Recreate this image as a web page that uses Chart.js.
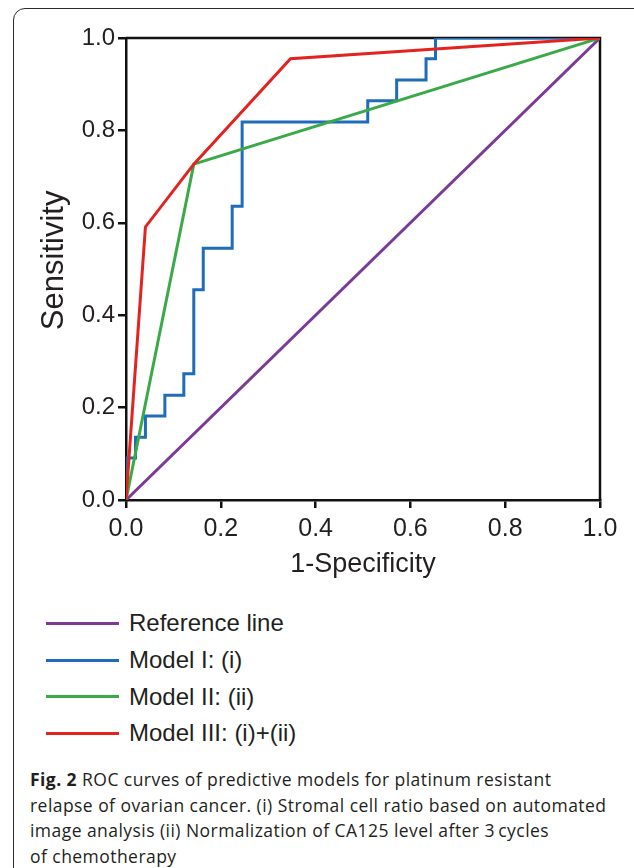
<!DOCTYPE html>
<html>
<head>
<meta charset="utf-8">
<script src="https://cdn.jsdelivr.net/npm/chart.js@4.4.1/dist/chart.umd.min.js"></script>
<style>
  body { margin: 0; background: #fff; width: 634px; height: 868px; overflow: hidden; position: relative; }
  #frame { position: absolute; left: 13px; top: 8px; width: 640px; height: 900px; border: 1.3px solid #2b2b2b; border-radius: 12px; }
  #wrap { position: absolute; left: 0; top: 0; width: 634px; height: 590px; }
  #legend { position: absolute; left: 46px; top: 605px; font-family: "Liberation Sans", Arial, sans-serif; font-size: 24px; color: #231f20; }
  .item { display: flex; align-items: center; height: 36.7px; }
  .swatch { width: 73px; height: 3px; margin-right: 10px; }
  #caption { position: absolute; left: 30px; top: 767px; width: 600px; white-space: nowrap; font-family: "Open Sans", sans-serif; font-size: 17.5px; letter-spacing: 0.45px; line-height: 25.7px; color: #231f20; }
</style>
</head>
<body>
<div id="frame"></div>
<div id="wrap"><canvas id="myChart" width="634" height="590"></canvas></div>
<div id="legend"></div>
<div id="caption"><b>Fig. 2</b> ROC curves of predictive models for platinum resistant<br>relapse of ovarian cancer. (i) Stromal cell ratio based on automated<br>image analysis (ii) Normalization of CA125 level after 3&#8201;cycles<br>of chemotherapy</div>
<script>
// ROC points: 1-Specificity (fpr) and Sensitivity (tpr)
const refFpr = [0, 1]
const refTpr = [0, 1]

const modelIFpr = [0, 0, 0.020, 0.020, 0.041, 0.041, 0.082, 0.082, 0.122, 0.122, 0.143, 0.143, 0.163, 0.163, 0.224, 0.224, 0.245, 0.245, 0.510, 0.510, 0.571, 0.571, 0.633, 0.633, 0.653, 0.653, 1]
const modelITpr = [0, 0.091, 0.091, 0.136, 0.136, 0.182, 0.182, 0.227, 0.227, 0.273, 0.273, 0.455, 0.455, 0.545, 0.545, 0.636, 0.636, 0.818, 0.818, 0.864, 0.864, 0.909, 0.909, 0.955, 0.955, 1, 1]

const modelIIFpr = [0, 0.143, 1]
const modelIITpr = [0, 0.727, 1]

const modelIIIFpr = [0, 0.041, 0.143, 0.347, 1]
const modelIIITpr = [0, 0.591, 0.727, 0.955, 1]

const labels = ["Reference line", "Model I: (i)", "Model II: (ii)", "Model III: (i)+(ii)"]
const colors = ["#7b3a96", "#1f6db8", "#3aaa48", "#e3231f"]
const axisTicks = [0, 0.2, 0.4, 0.6, 0.8, 1.0]

const toPoints = (xs, ys) => xs.map((x, i) => ({ x: x, y: ys[i] }))

const series = [
    toPoints(refFpr, refTpr),
    toPoints(modelIFpr, modelITpr),
    toPoints(modelIIFpr, modelIITpr),
    toPoints(modelIIIFpr, modelIIITpr),
]

const datasets = series.map((pts, i) => ({
    label: labels[i],
    data: pts,
    borderColor: colors[i],
    borderWidth: 3,
    pointRadius: 0,
    fill: false,
    tension: 0,
    order: series.length - 1 - i,
}))

// top and right edges of the plot box
const boxPlugin = {
    id: 'box',
    beforeDatasetsDraw(chart) {
        const { ctx, chartArea } = chart
        ctx.save()
        ctx.strokeStyle = '#111'
        ctx.lineWidth = 2.5
        ctx.beginPath()
        ctx.moveTo(chartArea.left, chartArea.top)
        ctx.lineTo(chartArea.right, chartArea.top)
        ctx.lineTo(chartArea.right, chartArea.bottom)
        ctx.stroke()
        ctx.restore()
    }
}

const ctx = document.querySelector("#myChart").getContext("2d")
const chart = new Chart(ctx, {
    type: 'line',
    data: { datasets: datasets },
    plugins: [boxPlugin],
    options: {
        responsive: false,
        animation: false,
        layout: { padding: { left: 32, top: 38, right: 34, bottom: 5 } },
        plugins: { legend: { display: false }, tooltip: { enabled: false } },
        scales: {
            x: {
                type: 'linear',
                min: 0,
                max: 1,
                afterBuildTicks: (scale) => { scale.ticks = axisTicks.map(v => ({ value: v })) },
                afterFit: (scale) => { scale.height = 85 },
                grid: { drawOnChartArea: false, drawTicks: true, tickLength: 8, color: '#111', lineWidth: 2.5 },
                border: { color: '#111', width: 2.5 },
                ticks: { font: { family: "Liberation Sans", size: 25 }, color: '#231f20', padding: 6, maxRotation: 0, callback: (v) => v.toFixed(1) },
                title: { display: true, text: '1-Specificity', font: { family: "Liberation Sans", size: 27 }, color: '#231f20', padding: { top: 0, bottom: 4 } },
            },
            y: {
                type: 'linear',
                min: 0,
                max: 1,
                afterBuildTicks: (scale) => { scale.ticks = axisTicks.map(v => ({ value: v })) },
                afterFit: (scale) => { scale.width = 94 },
                grid: { drawOnChartArea: false, drawTicks: true, tickLength: 8, color: '#111', lineWidth: 2.5 },
                border: { color: '#111', width: 2.5 },
                ticks: { font: { family: "Liberation Sans", size: 24 }, color: '#231f20', padding: 3, callback: (v) => v.toFixed(1) },
                title: { display: true, text: '  Sensitivity', font: { family: "Liberation Sans", size: 31 }, color: '#231f20', padding: { top: 4, bottom: 0 } },
            }
        }
    }
})

// legend built from the chart's datasets
const legend = document.querySelector("#legend")
chart.data.datasets.forEach(ds => {
    const item = document.createElement("div")
    item.className = "item"
    const swatch = document.createElement("span")
    swatch.className = "swatch"
    swatch.style.background = ds.borderColor
    const text = document.createElement("span")
    text.innerText = ds.label
    item.appendChild(swatch)
    item.appendChild(text)
    legend.appendChild(item)
})
</script>
</body>
</html>
